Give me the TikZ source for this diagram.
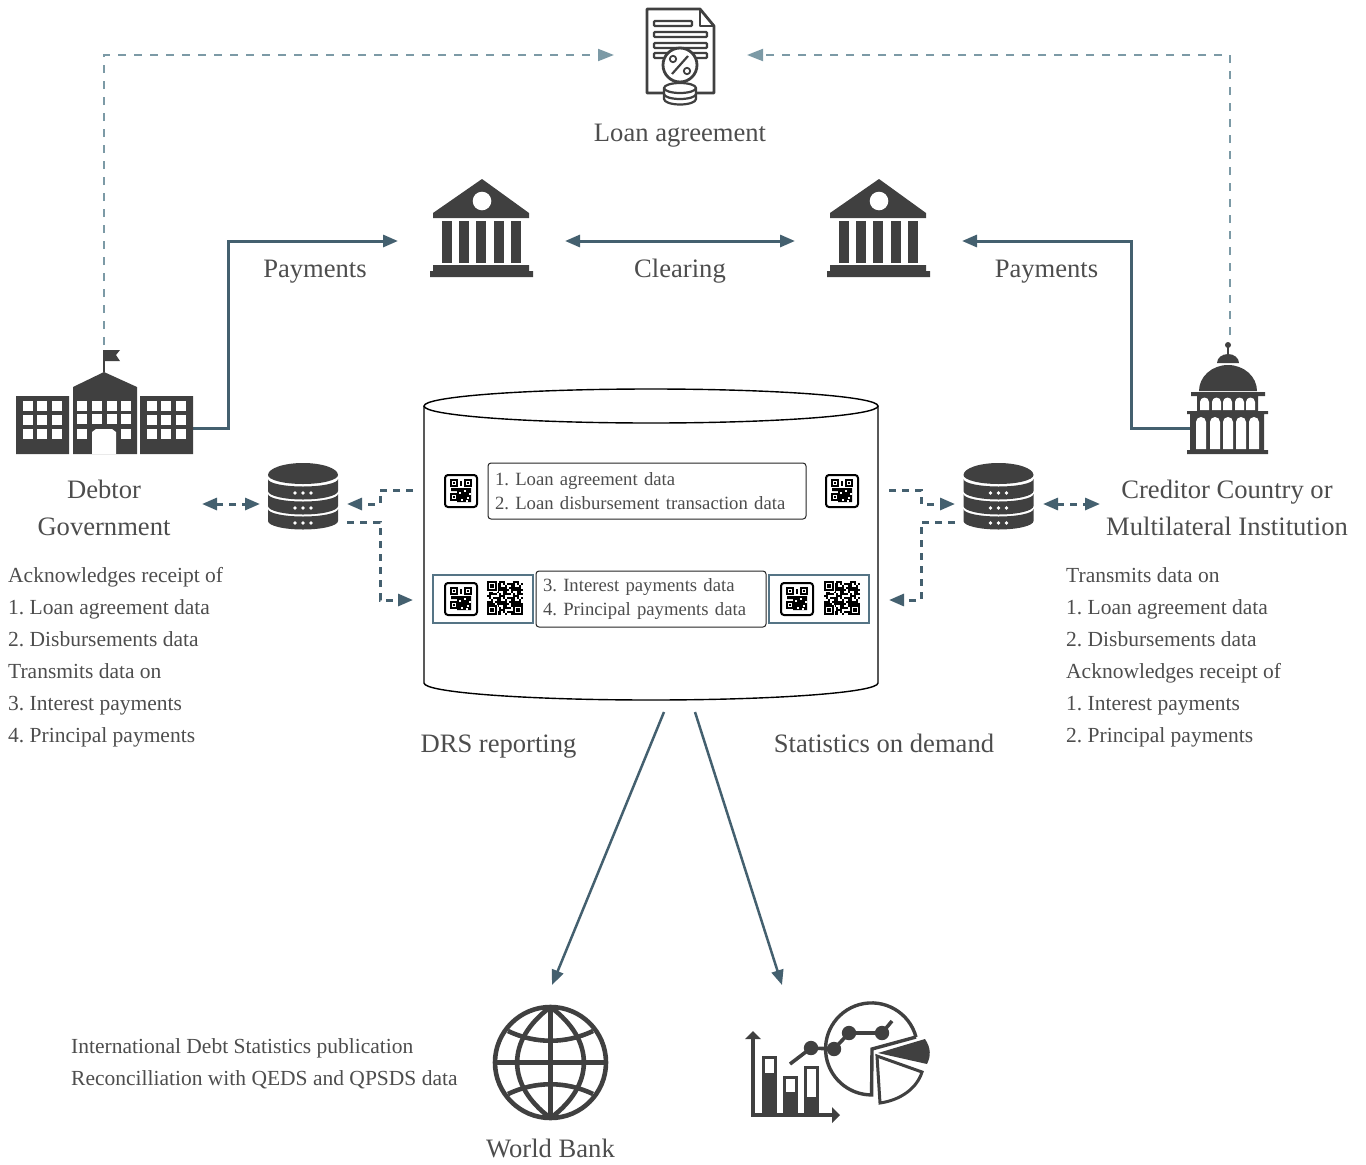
\documentclass[tikz,border=0pt]{standalone}
\usepackage{fontspec}
\setmainfont{Liberation Serif}
\usepackage{tikz}
\usetikzlibrary{arrows.meta}

\definecolor{icondark}{HTML}{404040}
\definecolor{labelgray}{HTML}{4D4D4D}
\definecolor{flowslate}{HTML}{44606F}
\definecolor{flowlight}{HTML}{7C9AA6}
\definecolor{qrframe}{HTML}{557485}

\tikzset{
  biglabel/.style={text=labelgray,inner sep=0pt,align=center,font=\frenchspacing\fontsize{26.6}{37}\selectfont},
  oneline/.style={biglabel,anchor=base},
  listlabel/.style={text=labelgray,inner sep=0pt,anchor=west,align=left,font=\frenchspacing\fontsize{21.5}{32}\selectfont},
  boxlabel/.style={draw=black!85,line width=1pt,rounded corners=3pt,fill=white,text=labelgray,inner sep=7pt,align=left,minimum height=56pt,font=\frenchspacing\fontsize{18.7}{24}\selectfont},
  qrband/.style={draw=qrframe,line width=1.2pt,fill=white},
  loanflow/.style={draw=flowlight,line width=2pt,dash pattern=on 8pt off 8pt,-{Triangle[length=16pt,width=12pt]}},
  payflow/.style={draw=flowslate,line width=3pt,-{Triangle[length=15pt,width=12pt]}},
  dataflow/.style={draw=flowslate,line width=3pt,dash pattern=on 7pt off 6pt,-{Triangle[length=15pt,width=12pt]}},
  iconline/.style={draw=icondark,line width=2.8pt,line join=round},
}

% small code in a rounded frame
\newcommand{\qrcard}[2]{%
  \begin{scope}[shift={(#1,#2)}]
    \draw[black,line width=2pt,fill=white,rounded corners=3pt] (0,0) rectangle (32,32);
    \fill[black] (12,13) rectangle (26,27) (6,13) rectangle (12,16);
    \foreach \cx/\cy in {14/17,19/15,22/22,16/24,24/18,21/25} \fill[white] (\cx,\cy) rectangle ++(1.8,1.5);
    \foreach \fx/\fy in {6/5,20/5,6/19} {
      \fill[white] (\fx-.5,\fy-.5) rectangle ++(7,7);
      \draw[black,line width=1.2pt] (\fx,\fy) rectangle ++(6,6);
      \fill[black] (\fx+2,\fy+2) rectangle ++(2,2);
    }
    \fill[black] (15,5.5) rectangle (17,11);
  \end{scope}}

% bare code, drawn cell by cell
\newcommand{\qrbare}[2]{%
  \begin{scope}[shift={(#1,#2)}]
    \foreach \c in {0,...,17} \foreach \r in {0,...,16} {
      \pgfmathtruncatemacro{\cell}{mod(\c*\c*3+\r*\r*5+\c*\r,7)}
      \ifnum\cell<4 \fill[black] (\c*2,\r*2) rectangle ++(2,2); \fi
    }
    \foreach \fx/\fy in {0/0,0/24,26/24} {
      \fill[white] (\fx-.5,\fy-.5) rectangle ++(11,11);
      \draw[black,line width=1.5pt] (\fx+1,\fy+1) rectangle ++(8,8);
      \fill[black] (\fx+3.2,\fy+3.2) rectangle ++(3.6,3.6);
    }
  \end{scope}}

% server stack
\newcommand{\dbstack}[1]{%
  \begin{scope}[shift={(#1,0)}]
    \fill[icondark] (-35,475) arc (180:360:35 and 12) arc (0:180:35 and 9) -- cycle;
    \foreach \ry in {479,494,509} {
      \fill[icondark] (-35,\ry) arc (180:0:35 and 7.5) -- (35,\ry+12) arc (0:180:35 and 8.5) -- cycle;
    }
    \foreach \ry in {493,508,523} \foreach \dx in {-8,0,8} \fill[white] (\dx,\ry) circle (1.8);
  \end{scope}}

\begin{document}
\begin{tikzpicture}[x=1pt,y=-1pt]
  \useasboundingbox (0,0) rectangle (1366,1165);

  % ports for the connectors
  \coordinate (agreeL) at (614,55);
  \coordinate (agreeR) at (747,55);
  \coordinate (debtorTop) at (104,345);
  \coordinate (creditorTop) at (1230,335);
  \coordinate (debtorOut) at (193,428);
  \coordinate (creditorOut) at (1190,428);
  \coordinate (bankLin) at (398,241);
  \coordinate (bankLout) at (565,241);
  \coordinate (bankRin) at (795,241);
  \coordinate (bankRout) at (962,241);
  \coordinate (cylTopL) at (413,490);
  \coordinate (cylLowL) at (413,600);
  \coordinate (cylTopR) at (889,490);
  \coordinate (cylLowR) at (889,600);
  \coordinate (dbLin) at (347,504);
  \coordinate (dbLout) at (347,522);
  \coordinate (dbRin) at (955,504);
  \coordinate (dbRout) at (955,522);
  \coordinate (dbLside) at (260,504);
  \coordinate (debtorSide) at (202,504);
  \coordinate (dbRside) at (1043,504);
  \coordinate (creditorSide) at (1100,504);
  \coordinate (cylBaseL) at (664,712);
  \coordinate (cylBaseR) at (695,712);
  \coordinate (globeTop) at (552,985);
  \coordinate (chartTop) at (782,985);

  % connectors
  \draw[loanflow] (debtorTop) |- (agreeL);
  \draw[loanflow] (creditorTop) |- (agreeR);
  \draw[payflow] (debtorOut) -- ++(35,0) |- (bankLin);
  \draw[payflow] (creditorOut) -- ++(-59,0) |- (bankRout);
  \draw[payflow,{Triangle[length=15pt,width=12pt]}-{Triangle[length=15pt,width=12pt]}] (bankLout) -- (bankRin);
  \draw[dataflow] (cylTopL) -- ++(-33,0) -- ++(0,14) -- (dbLin);
  \draw[dataflow] (dbLout) -- ++(33,0) |- (cylLowL);
  \draw[dataflow] (cylTopR) -- ++(32,0) -- ++(0,14) -- (dbRin);
  \draw[dataflow] (dbRout) -- ++(-34,0) |- (cylLowR);
  \draw[dataflow,{Triangle[length=15pt,width=12pt]}-{Triangle[length=15pt,width=12pt]}] (debtorSide) -- (dbLside);
  \draw[dataflow,{Triangle[length=15pt,width=12pt]}-{Triangle[length=15pt,width=12pt]}] (dbRside) -- (creditorSide);
  \draw[payflow,line width=2.5pt] (cylBaseL) -- (globeTop);
  \draw[payflow,line width=2.5pt] (cylBaseR) -- (chartTop);

  % loan document
  \draw[iconline,fill=white] (647,9) -- (700,9) -- (714,26) -- (714,93) -- (647,93) -- cycle;
  \draw[iconline,line width=2.2pt] (700,9) -- (700,26) -- (714,26);
  \foreach \by/\bx in {21/692,32/707,43/707,53/707}
    \draw[icondark,line width=2.2pt,rounded corners=1pt] (654,\by) rectangle (\bx,\by+5);
  \draw[iconline,fill=white] (680,65) circle (17);
  \draw[iconline,line width=2.2pt] (688,56) -- (672,74);
  \draw[iconline,line width=1.8pt] (673,59) circle (3.2) (687,71) circle (3.2);
  \draw[iconline,line width=2.2pt,fill=white] (664,88) arc (180:360:16 and 5) -- (696,99) arc (0:180:16 and 5.5) -- cycle;
  \draw[iconline,line width=2.2pt] (664,88) arc (180:0:16 and 5) (664,94) arc (180:0:16 and 5);

  % banks
  \foreach \bankx in {0,397} {
    \begin{scope}[shift={(\bankx,0)}]
      \fill[icondark] (482,179) -- (529,213) -- (529,218) -- (433,218) -- (433,213) -- cycle;
      \fill[white] (482,201) circle (9.3);
      \foreach \colx in {442,459,476,494,511} \fill[icondark] (\colx,221) rectangle (\colx+10,263);
      \fill[icondark] (433,265) rectangle (529,271) (430,271) rectangle (533,277);
    \end{scope}
  }

  % debtor school
  \fill[icondark] (16,396) rectangle (69,454) (140,396) rectangle (193,454);
  \fill[icondark] (73,454) -- (73,387) -- (104,372) -- (137,387) -- (137,454) -- cycle;
  \draw[icondark,line width=1.6pt] (104,372) -- (104,350);
  \fill[icondark] (105,350) -- (120,350) -- (116,355) -- (120,361) -- (105,361) -- cycle;
  \fill[white] (92,454) -- (92,432) -- (96,429) -- (112,429) -- (116,432) -- (116,454) -- cycle;
  \foreach \wx in {23,37,52,147,161,176} \foreach \wy in {401,415,429}
    \fill[white] (\wx,\wy) rectangle ++(9.5,9.5);
  \foreach \wx in {77,92,107,121} \foreach \wy in {401,414}
    \fill[white] (\wx,\wy) rectangle ++(9.5,9.5);
  \foreach \wx in {77,121} \fill[white] (\wx,429) rectangle ++(9.5,9.5);

  % creditor capitol
  \fill[icondark] (1228,345) circle (3);
  \draw[icondark,line width=1.6pt] (1228,345) -- (1228,356);
  \fill[icondark] (1217,363) arc (180:360:11 and 9) -- cycle;
  \fill[icondark] (1199,391) arc (180:360:29 and 26) -- cycle;
  \fill[icondark] (1191,392) rectangle (1265,396) (1197,396) rectangle (1258,411)
    (1187,411) rectangle (1268,414) (1190,414) rectangle (1264,450) (1187,450) rectangle (1268,454);
  \foreach \wx in {1200,1212,1223,1235,1246}
    \fill[white] (\wx,410) -- (\wx,402) arc (180:360:4.5) -- (\wx+9,410) -- cycle;
  \foreach \wx in {1196,1210,1223,1236,1249}
    \fill[white] (\wx,449) -- (\wx,422) arc (180:360:5) -- (\wx+10,449) -- cycle;

  % server stacks
  \dbstack{303}
  \dbstack{998.5}

  % reporting cylinder
  \draw[black,line width=1.4pt,fill=white] (424,406) -- (424,683) arc (180:0:227 and 17) -- (878,406);
  \draw[black,line width=1.4pt,fill=white] (651,406) ellipse (227 and 17);

  % records inside the cylinder
  \node[qrband,minimum width=100pt,minimum height=48pt] (bandL) at (483,599) {};
  \node[qrband,minimum width=100pt,minimum height=48pt] (bandR) at (819,599) {};
  \node[boxlabel,text width=304pt] (recordA) at (647,491) {1. Loan agreement data\\2. Loan disbursement transaction data};
  \node[boxlabel,text width=216pt] (recordB) at (651,599) {3. Interest payments data\\4. Principal payments data};
  \qrcard{445}{475}
  \qrcard{826}{475}
  \qrcard{445}{583}
  \qrbare{487}{581}
  \qrcard{781}{583}
  \qrbare{824}{581}

  % globe
  \draw[iconline,line width=4.6pt] (550.5,1062.5) circle (55.5);
  \draw[iconline,line width=4.6pt] (550.5,1007) -- (550.5,1118) (495,1062.5) -- (606,1062.5);
  \draw[iconline,line width=4.6pt] (550.5,1007) .. controls (506,1040) and (506,1085) .. (550.5,1118);
  \draw[iconline,line width=4.6pt] (550.5,1007) .. controls (595,1040) and (595,1085) .. (550.5,1118);
  \draw[iconline,line width=4.6pt] (508,1031) .. controls (535,1044) and (566,1044) .. (593,1031);
  \draw[iconline,line width=4.6pt] (508,1094) .. controls (535,1081) and (566,1081) .. (593,1094);

  % chart
  \draw[icondark,line width=4.4pt] (753,1036) -- (753,1115) -- (834,1115);
  \fill[icondark] (745,1039) -- (753,1031) -- (761,1039) -- cycle (832,1107) -- (840,1115) -- (832,1123) -- cycle;
  \foreach \bl/\bt/\wt/\wb in {762/1056/1059/1073,783/1076/1079/1092,804/1066/1069/1097} {
    \fill[icondark] (\bl,\bt) rectangle (\bl+15,1115);
    \fill[white] (\bl+3,\wt) rectangle (\bl+12,\wb);
  }
  \draw[icondark,line width=3.4pt] (916,1037) arc (-15:-270:46) -- (872,1049) -- (916,1037);
  \fill[icondark] (878,1053) -- (925,1039) .. controls (931,1048) and (931,1056) .. (927,1064) -- cycle;
  \draw[icondark,line width=3pt,line join=miter] (877,1056) -- (922,1072) .. controls (917,1088) and (901,1100) .. (880,1103) -- cycle;
  \draw[icondark,line width=3.6pt] (790,1064) -- (811,1048) -- (834,1049) -- (849,1033) -- (882,1033) -- (892,1021);
  \foreach \px/\py in {811/1048,834/1049,849/1033,882/1033} \fill[icondark] (\px,\py) circle (7.2);

  % labels
  \node[oneline] (loanText) at (680,141) {Loan agreement};
  \node[oneline] (payLeft) at (315,277) {Payments};
  \node[oneline] (clearText) at (680,277) {Clearing};
  \node[oneline] (payRight) at (1046.5,277) {Payments};
  \node[biglabel] (debtorName) at (104,508) {Debtor\\Government};
  \node[biglabel] (creditorName) at (1227,508) {Creditor Country or\\Multilateral Institution};
  \node[listlabel] (debtorList) at (8,657) {Acknowledges receipt of\\1. Loan agreement data\\2. Disbursements data\\Transmits data on\\3. Interest payments\\4. Principal payments};
  \node[listlabel] (creditorList) at (1066,657) {Transmits data on\\1. Loan agreement data\\2. Disbursements data\\Acknowledges receipt of\\1. Interest payments\\2. Principal payments};
  \node[oneline] (drsText) at (498.5,752) {DRS reporting};
  \node[oneline] (statsText) at (884,752) {Statistics on demand};
  \node[listlabel] (pubText) at (71,1064) {International Debt Statistics publication\\Reconcilliation with QEDS and QPSDS data};
  \node[oneline] (bankText) at (550.5,1157) {World Bank};
\end{tikzpicture}
\end{document}
